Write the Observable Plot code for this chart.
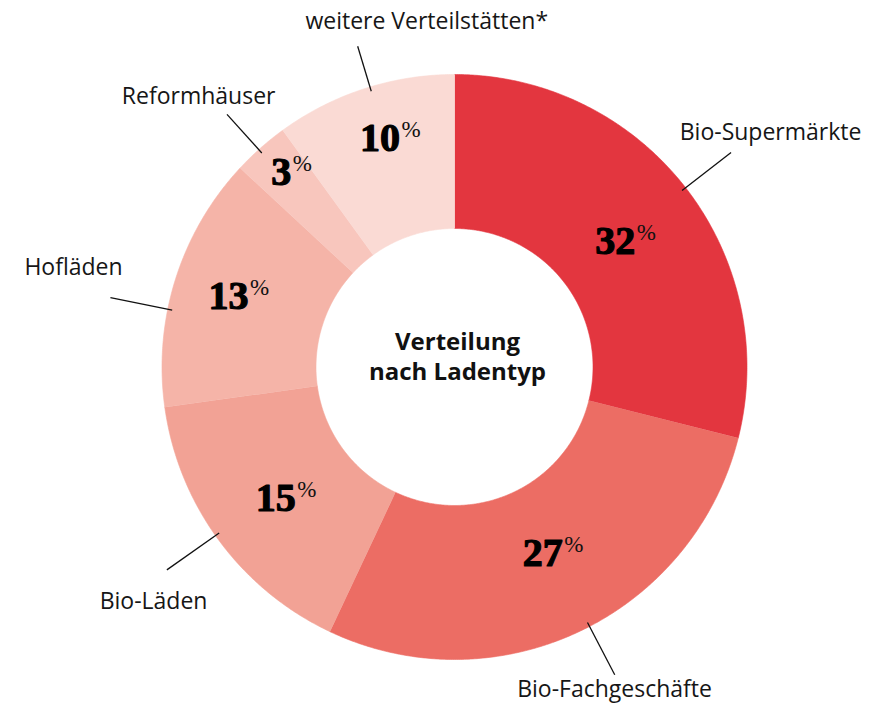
<!DOCTYPE html>
<html><head><meta charset="utf-8">
<script src="https://cdn.jsdelivr.net/npm/d3@7"></script>
<script src="https://cdn.jsdelivr.net/npm/@observablehq/plot@0.6"></script>
<style>body{margin:0;background:#fff} svg{display:block}</style>
</head><body><div id="chart"></div>
<script>
// ---- data ----
const categories = ["Bio-Supermärkte","Bio-Fachgeschäfte","Bio-Läden","Hofläden","Reformhäuser","weitere Verteilstätten*"];
const labelPercents = [32, 27, 15, 13, 3, 10];          // printed values
const sliceShares = [28.9, 28.1, 15.8, 14.1, 3.1, 10.0]; // drawn arc sizes
const colors = ["#e3363f","#ec6d64","#f2a295","#f5b4a8","#f8c6bd","#fadad4"];
const centerTitle = ["Verteilung", "nach Ladentyp"];

// ---- layout ----
const W = 873, H = 705, CX = 454, CY = 366.5, R_OUT = 292.5, R_IN = 138.5;
const numberRadius = [204, 206, 222, 237, 261, 241];
const leaderAngle = [52.2, 152.5, 234.8, 281.4, 318, 343.2];
const leaderInner = 288;
const leaderOuter = [350, 347, 352, 351, 340, 335];
const labelPolar = [[53.4, 393.7], [153.6, 360], [232, 381.9], [284.6, 393.7], [316.6, 372.4], [355.4, 346]];

const rad = d => d * Math.PI / 180;
const pol = (a, r) => [r * Math.sin(a), -r * Math.cos(a)];

const pie = d3.pie().sort(null).value(d => d)(sliceShares);

const arcPts = [];
pie.forEach((p, i) => {
  const n = Math.max(8, Math.ceil((p.endAngle - p.startAngle) / rad(0.4)));
  for (let k = 0; k <= n; k++) {
    const a = p.startAngle + (p.endAngle - p.startAngle) * k / n;
    const [x, y] = pol(a, R_OUT); arcPts.push({cat: categories[i], x, y});
  }
  for (let k = n; k >= 0; k--) {
    const a = p.startAngle + (p.endAngle - p.startAngle) * k / n;
    const [x, y] = pol(a, R_IN); arcPts.push({cat: categories[i], x, y});
  }
});

const leaders = categories.map((c, i) => {
  const [x1, y1] = pol(rad(leaderAngle[i]), leaderInner);
  const [x2, y2] = pol(rad(leaderAngle[i]), leaderOuter[i]);
  return {x1, y1, x2, y2};
});
const labels = categories.map((c, i) => {
  const [x, y] = pol(rad(labelPolar[i][0]), labelPolar[i][1]);
  return {name: c, x, y};
});
const numbers = pie.map((p, i) => {
  const [x, y] = pol((p.startAngle + p.endAngle) / 2, numberRadius[i]);
  const txt = String(labelPercents[i]);
  return {txt, x, y, px: x + txt.length * 10 + 1.5, py: y - 8.5};
});

const chart = Plot.plot({
  width: W, height: H, margin: 0,
  x: {domain: [-CX, W - CX], range: [0, W], axis: null},
  y: {domain: [-CY, H - CY], range: [0, H], axis: null},
  color: {domain: categories, range: colors},
  marks: [
    Plot.line(arcPts, {x: "x", y: "y", z: "cat", fill: "cat", stroke: "cat", strokeWidth: 0.6, curve: "linear"}),
    Plot.link(leaders, {x1: "x1", y1: "y1", x2: "x2", y2: "y2", stroke: "#111", strokeWidth: 1.3}),
    Plot.text(labels, {x: "x", y: "y", text: "name", fontSize: 23, fontFamily: "Open Sans", fill: "#161616"}),
    Plot.text(numbers, {x: "x", y: "y", text: "txt", fontSize: 40, fontFamily: "Liberation Serif", fontWeight: "bold", fill: "#000", stroke: "#000", strokeWidth: 1.2}),
    Plot.text(numbers, {x: "px", y: "py", text: () => "%", textAnchor: "start", fontSize: 23, fontFamily: "Liberation Serif", fill: "#111"}),
    Plot.text(centerTitle, {x: () => 3, y: (d, i) => -25 + i * 30, text: d => d, fontSize: 24, fontWeight: "bold", fontFamily: "Open Sans", fill: "#111"})
  ]
});
document.getElementById("chart").append(chart);
</script>
</body></html>
